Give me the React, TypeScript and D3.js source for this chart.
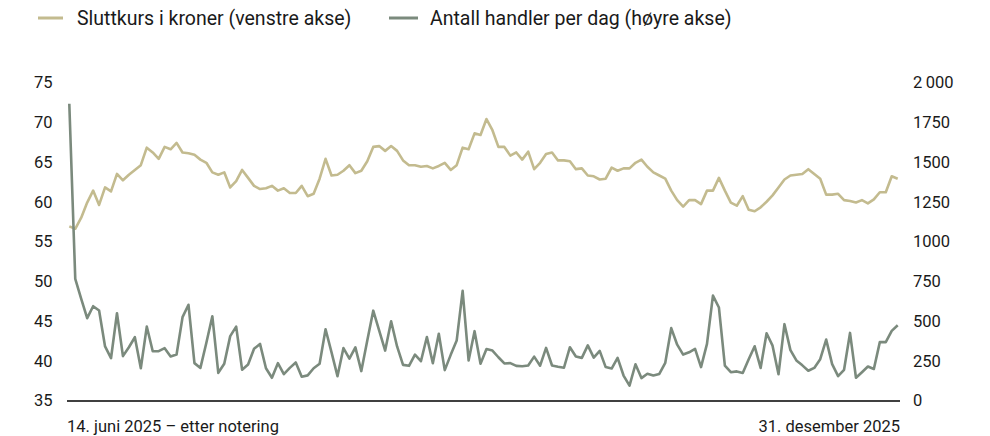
import React from "react";
import * as d3 from "d3";

const price: number[] = [
  56.9, 56.6, 58.0, 59.9, 61.4, 59.6, 61.8, 61.3, 63.5, 62.7,
  63.4, 64.0, 64.6, 66.8, 66.2, 65.4, 66.9, 66.6, 67.4, 66.2,
  66.1, 65.9, 65.3, 64.9, 63.7, 63.4, 63.7, 61.8, 62.6, 64.0,
  63.0, 62.0, 61.6, 61.7, 62.0, 61.4, 61.7, 61.1, 61.1, 62.0,
  60.7, 61.0, 62.9, 65.4, 63.3, 63.4, 63.9, 64.6, 63.6, 63.9,
  65.1, 66.9, 67.0, 66.4, 67.0, 66.4, 65.2, 64.6, 64.6, 64.4,
  64.5, 64.2, 64.5, 64.9, 64.0, 64.6, 66.8, 66.6, 68.6, 68.4,
  70.4, 69.0, 66.9, 66.9, 65.8, 66.2, 65.3, 66.3, 64.1, 64.9,
  66.0, 66.2, 65.2, 65.2, 65.1, 64.1, 64.2, 63.3, 63.2, 62.8,
  62.9, 64.3, 63.9, 64.2, 64.2, 64.9, 65.3, 64.4, 63.7, 63.3,
  62.9, 61.4, 60.2, 59.4, 60.2, 60.2, 59.7, 61.4, 61.4, 63.0,
  61.4, 59.9, 59.5, 60.7, 59.0, 58.8, 59.3, 60.0, 60.8, 61.8,
  62.8, 63.3, 63.4, 63.5, 64.1, 63.5, 62.9, 60.9, 60.9, 61.0,
  60.2, 60.1, 59.9, 60.2, 59.8, 60.3, 61.2, 61.2, 63.2, 62.9,
];

const trades: number[] = [
  1866, 765, 639, 518, 593, 566, 340, 266, 549, 279,
  335, 398, 203, 465, 310, 310, 329, 277, 289, 524,
  602, 235, 205, 363, 530, 174, 231, 405, 465, 193,
  226, 325, 356, 203, 143, 235, 166, 205, 239, 150,
  158, 203, 231, 448, 303, 153, 330, 264, 334, 185,
  377, 565, 440, 314, 498, 340, 224, 218, 289, 247,
  399, 235, 420, 191, 287, 377, 690, 252, 436, 231,
  324, 314, 272, 233, 235, 218, 215, 220, 276, 219,
  331, 220, 212, 206, 335, 277, 268, 347, 270, 312,
  210, 201, 268, 157, 93, 228, 141, 168, 157, 167,
  237, 455, 351, 289, 303, 325, 210, 356, 660, 585,
  220, 178, 183, 173, 259, 341, 205, 423, 345, 165,
  480, 317, 252, 221, 187, 205, 260, 383, 229, 153,
  193, 425, 143, 178, 214, 198, 367, 367, 438, 473,
];

const leftTicks: number[] = [35, 40, 45, 50, 55, 60, 65, 70, 75];
const rightTicks: number[] = [0, 250, 500, 750, 1000, 1250, 1500, 1750, 2000];
const rightTickLabels: string[] = ["0", "250", "500", "750", "1000", "1250", "1500", "1750", "2\u2009000"];

const seriesNames: string[] = ["Sluttkurs i kroner (venstre akse)", "Antall handler per dag (høyre akse)"];
const xStartLabel = "14. juni 2025 – etter notering";
const xEndLabel = "31. desember 2025";

const W = 990;
const H = 436;
const priceColor = "#c3bb8f";
const tradeColor = "#7b8a7d";
const textColor = "#1a1a1a";
const font = "Roboto, 'Noto Sans', sans-serif";

export default function App() {
  const x = d3.scaleLinear().domain([0, price.length - 1]).range([69.3, 897.7]);
  const yL = d3.scaleLinear().domain([35, 75]).range([400.5, 82.5]);
  const yR = d3.scaleLinear().domain([0, 2000]).range([400.5, 82.5]);

  const priceLine = d3.line<number>().x((_, i) => x(i)).y((d) => yL(d))(price) || "";
  const tradeLine = d3.line<number>().x((_, i) => x(i)).y((d) => yR(d))(trades) || "";

  return (
    <div style={{ position: "fixed", left: 0, top: 0, width: W, height: H, background: "#fff" }}>
      <svg width={W} height={H} viewBox={`0 0 ${W} ${H}`} style={{ display: "block" }}>
        <rect x={0} y={0} width={W} height={H} fill="#fff" />
        {/* legend */}
        <g fontFamily={font} fontSize={19.5} fill={textColor}>
          <line x1={38} x2={63} y1={18} y2={18} stroke={priceColor} strokeWidth={3} />
          <text x={77} y={25}>{seriesNames[0]}</text>
          <line x1={389} x2={418} y1={18} y2={18} stroke={tradeColor} strokeWidth={3} />
          <text x={430} y={25}>{seriesNames[1]}</text>
        </g>
        {/* axis labels */}
        <g fontFamily={font} fontSize={16.5} fill={textColor}>
          {leftTicks.map((t) => (
            <text key={"l" + t} x={34} y={yL(t)} dy="0.36em">{t}</text>
          ))}
          {rightTicks.map((t, i) => (
            <text key={"r" + t} x={913} y={yR(t)} dy="0.36em">{rightTickLabels[i]}</text>
          ))}
        </g>
        {/* lines */}
        <path d={priceLine} fill="none" stroke={priceColor} strokeWidth={2.6} strokeLinejoin="round" />
        <path d={tradeLine} fill="none" stroke={tradeColor} strokeWidth={2.6} strokeLinejoin="round" />
        {/* baseline */}
        <line x1={67} x2={900} y1={401} y2={401} stroke="#000" strokeWidth={1.5} />
        {/* x labels */}
        <g fontFamily={font} fontSize={16.5} fill={textColor}>
          <text x={67} y={432}>{xStartLabel}</text>
          <text x={900} y={432} textAnchor="end">{xEndLabel}</text>
        </g>
      </svg>
    </div>
  );
}
